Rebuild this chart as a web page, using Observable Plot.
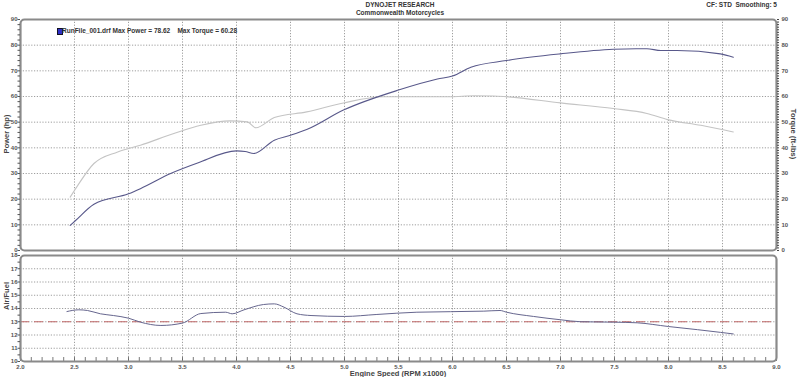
<!DOCTYPE html>
<html>
<head>
<meta charset="utf-8">
<script src="https://cdn.jsdelivr.net/npm/d3@7"></script>
<script src="https://cdn.jsdelivr.net/npm/@observablehq/plot@0.6"></script>
<style>
  html, body { margin: 0; padding: 0; background: #fff; }
  #wrap { position: relative; width: 800px; height: 377px; overflow: hidden; font-family: "Liberation Sans", Arial, sans-serif; font-weight: bold; color: #333; }
  .abs { position: absolute; white-space: pre; line-height: 1; }
  .rot { position: absolute; white-space: pre; line-height: 1; font-size: 7.5px; color: #444; transform: translate(-50%, -50%) rotate(-90deg); }
  .rotR { position: absolute; white-space: pre; line-height: 1; font-size: 7.5px; color: #444; transform: translate(-50%, -50%) rotate(90deg); }
  #top, #bot { position: absolute; left: 0; }
  #top { top: 0; }
  #bot { top: 252px; }
</style>
</head>
<body>
<div id="wrap">
  <div id="top"></div>
  <div id="bot"></div>
  <div class="abs" style="left:0;width:800px;text-align:center;top:2px;font-size:6.5px;">DYNOJET RESEARCH</div>
  <div class="abs" style="left:0;width:800px;text-align:center;top:10px;font-size:6.5px;">Commonwealth Motorcycles</div>
  <div class="abs" style="right:23px;top:2px;font-size:6.5px;">CF: STD  Smoothing: 5</div>
  <div class="abs" style="left:57px;top:28px;width:4px;height:5px;background:#2f2fc8;border:0.5px solid #112;"></div>
  <div class="abs" style="left:62px;top:28px;font-size:6.5px;">RunFile_001.drf Max Power = 78.62    Max Torque = 60.28</div>
  <div class="rot" style="left:7px;top:134px;">Power (hp)</div>
  <div class="rotR" style="left:793px;top:134px;">Torque (ft-lbs)</div>
  <div class="rot" style="left:7px;top:296px;">Air/Fuel</div>
  <div class="abs" style="left:0;width:796px;text-align:center;top:370px;font-size:7.5px;color:#444;">Engine Speed (RPM x1000)</div>
</div>
<script>
// Engine speed in RPM x1000
const powerRpm = [2.46, 2.51, 2.68, 3.0, 3.11, 3.39, 3.64, 4.0, 4.08, 4.16, 4.35, 4.5, 4.65, 4.99, 5.5, 5.86, 6.0, 6.17, 6.5, 7.0, 7.49, 7.7, 7.8, 7.93, 8.08, 8.48, 8.6];
const powerHp  = [9.8, 11.7, 18.0, 22.1, 24.1, 30.0, 34.1, 38.8, 38.6, 37.8, 43.0, 44.9, 47.1, 54.7, 62.5, 66.8, 68.0, 71.4, 74.0, 76.6, 78.4, 78.62, 78.6, 77.9, 77.9, 76.6, 75.3];

const torqueRpm = [2.46, 2.52, 2.68, 2.9, 3.11, 3.42, 3.67, 3.94, 4.1, 4.18, 4.35, 4.65, 4.99, 5.36, 5.98, 6.2, 6.38, 6.5, 7.0, 7.49, 7.8, 7.99, 8.3, 8.6];
const torqueFtLbs = [20.8, 24.7, 33.9, 38.4, 41.0, 45.6, 48.8, 50.5, 50.1, 47.8, 51.8, 54.0, 57.5, 59.9, 59.9, 60.28, 60.2, 59.9, 57.5, 55.3, 53.4, 51.0, 48.8, 46.2];

const afrRpm = [2.43, 2.54, 2.62, 2.74, 2.86, 3.0, 3.11, 3.3, 3.5, 3.67, 3.9, 3.96, 4.07, 4.25, 4.35, 4.44, 4.56, 4.69, 5.0, 5.3, 5.67, 6.29, 6.44, 6.5, 6.75, 7.0, 7.19, 7.49, 7.71, 8.0, 8.27, 8.48, 8.6];
const afrValue = [13.77, 13.9, 13.85, 13.6, 13.47, 13.27, 12.97, 12.72, 12.9, 13.62, 13.72, 13.6, 13.9, 14.3, 14.35, 14.1, 13.6, 13.47, 13.4, 13.55, 13.72, 13.8, 13.85, 13.72, 13.4, 13.15, 13.0, 12.97, 12.92, 12.64, 12.4, 12.2, 12.08];

const afrTarget = 13.0;

const xTicks = [2.0, 2.5, 3.0, 3.5, 4.0, 4.5, 5.0, 5.5, 6.0, 6.5, 7.0, 7.5, 8.0, 8.5, 9.0];
const powerTicks = [0, 10, 20, 30, 40, 50, 60, 70, 80, 90];
const afrTicks = [10, 11, 12, 13, 14, 15, 16, 17, 18];

const powerData = powerRpm.map((x, i) => ({x, y: powerHp[i]}));
const torqueData = torqueRpm.map((x, i) => ({x, y: torqueFtLbs[i]}));
const afrData = afrRpm.map((x, i) => ({x, y: afrValue[i]}));

const font = {fontFamily: "Liberation Sans, Arial, sans-serif", fontSize: "6px", fontWeight: "bold", color: "#444", background: "transparent", overflow: "visible"};
const gridStyle = {stroke: "#666", strokeOpacity: 0.8, strokeDasharray: "1.2,1.6", strokeWidth: 0.8};

const topPlot = Plot.plot({
  width: 800, height: 252,
  marginLeft: 20, marginRight: 24, marginTop: 19, marginBottom: 2,
  x: {domain: [2, 9], axis: null},
  y: {domain: [0, 90], axis: null},
  style: font,
  marks: [
    Plot.gridX(xTicks.slice(1, -1), gridStyle),
    Plot.gridY(powerTicks.slice(1, -1), gridStyle),
    Plot.line(torqueData, {x: "x", y: "y", stroke: "#c4c4c4", strokeWidth: 1.1, curve: "monotone-x"}),
    Plot.line(powerData, {x: "x", y: "y", stroke: "#58588a", strokeWidth: 1.1, curve: "monotone-x"}),
    Plot.frame({stroke: "#8a8a8a", strokeWidth: 2.2, rx: 4}),
    Plot.axisY(d3.range(0, 91, 2), {anchor: "left", tickSize: 2.5, tickFormat: () => "", stroke: "#555", label: null}),
    Plot.axisY(powerTicks, {anchor: "left", tickSize: 0, tickPadding: 3, label: null, fill: "#555"}),
    Plot.axisY(d3.range(0, 91, 1), {anchor: "right", tickSize: 2, tickFormat: () => "", stroke: "#444", label: null}),
    Plot.axisY(powerTicks, {anchor: "right", tickSize: 0, tickPadding: 5, label: null, fill: "#555"})
  ]
});
document.getElementById("top").appendChild(topPlot);

const botPlot = Plot.plot({
  width: 800, height: 125,
  marginLeft: 20, marginRight: 24, marginTop: 3, marginBottom: 16,
  x: {domain: [2, 9], axis: null},
  y: {domain: [10, 18], axis: null},
  style: font,
  marks: [
    Plot.gridX(xTicks.slice(1, -1), gridStyle),
    Plot.gridY(afrTicks.slice(1, -1), gridStyle),
    Plot.ruleY([afrTarget], {stroke: "#c06868", strokeWidth: 1, strokeDasharray: "9,5"}),
    Plot.line(afrData, {x: "x", y: "y", stroke: "#66668e", strokeWidth: 1.0, curve: "monotone-x"}),
    Plot.ruleX(d3.range(20, 91, 1).map(d => d / 10), {x: d => d, y1: 10, y2: 10.3, stroke: "#555", strokeWidth: 0.8}),
    Plot.frame({stroke: "#8a8a8a", strokeWidth: 2.2, rx: 4}),
    Plot.axisY(d3.range(10, 18.01, 0.5), {anchor: "left", tickSize: 2.5, tickFormat: () => "", stroke: "#555", label: null}),
    Plot.axisY(afrTicks, {anchor: "left", tickSize: 0, tickPadding: 3, label: null, fill: "#555"}),
    Plot.axisX(xTicks, {anchor: "bottom", tickSize: 0, tickPadding: 3, tickFormat: d3.format(".1f"), label: null, fill: "#555"})
  ]
});
document.getElementById("bot").appendChild(botPlot);
</script>
</body>
</html>
